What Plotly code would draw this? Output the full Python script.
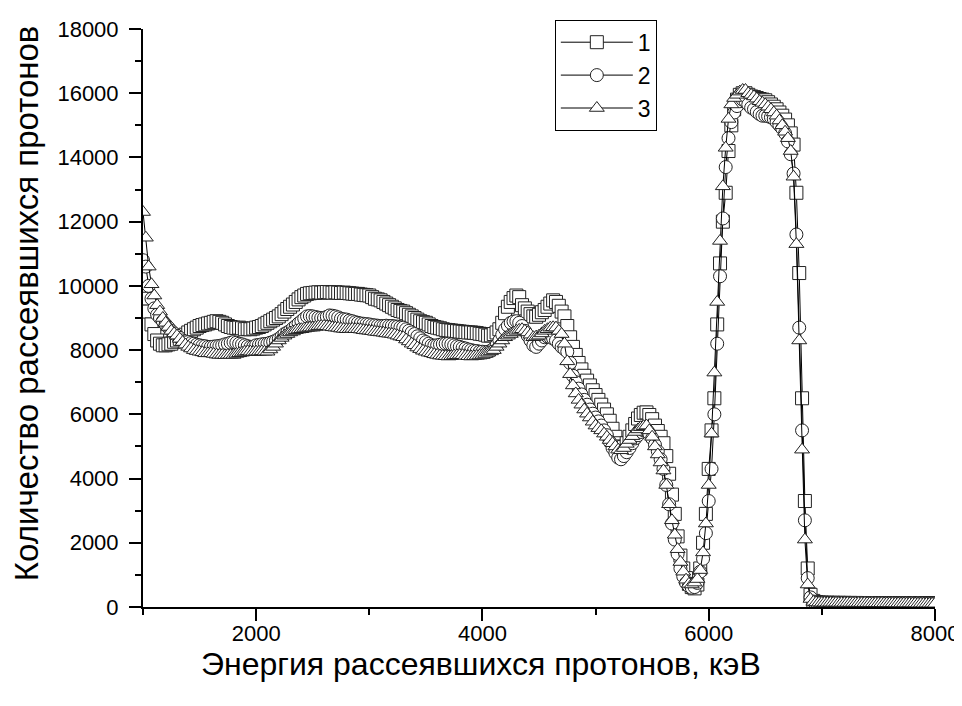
import plotly.graph_objects as go

# Energy grid (keV), 25 keV step from 1000 to 8000
E_START = 1000
E_STEP = 25
energy = [E_START + E_STEP * i for i in range(281)]

series1 = [
    9800, 9600, 9200, 8800,  8500, 8300, 8200, 8150,  8150, 8180, 8200, 8260,
    8300, 8350, 8400, 8480,  8550, 8600, 8650, 8700,  8750, 8780, 8800, 8830,
    8850, 8880, 8900, 8880,  8850, 8800, 8750, 8720,  8700, 8690, 8700, 8680,
    8650, 8660, 8650, 8670,  8700, 8720, 8750, 8800,  8850, 8900, 8950, 9000,
    9050, 9120, 9200, 9280,  9350, 9420, 9500, 9580,  9650, 9700, 9750, 9770,
    9780, 9790, 9800, 9790,  9800, 9810, 9800, 9790,  9800, 9790, 9780, 9790,
    9780, 9770, 9760, 9750,  9750, 9730, 9720, 9710,  9700, 9650, 9600, 9580,
    9550, 9500, 9450, 9400,  9350, 9300, 9250, 9220,  9200, 9150, 9100, 9050,
    9000, 8950, 8900, 8870,  8850, 8800, 8750, 8720,  8700, 8680, 8650, 8630,
    8620, 8610, 8600, 8590,  8580, 8570, 8560, 8550,  8550, 8540, 8530, 8510,
    8500, 8480, 8450, 8460,  8500, 8550, 8650, 8850,  9150, 9350, 9500, 9620,
    9700, 9650, 9400, 9300,  9200, 9120, 9050, 9040,  9100, 9180, 9250, 9350,
    9450, 9550, 9500, 9380,  9200, 9050, 8750, 8400,  8100, 7850, 7600, 7400,
    7200, 7050, 6900, 6750,  6600, 6450, 6300, 6150,  6000, 5800, 5550, 5300,
    5100, 5000, 4980, 5100,  5300, 5500, 5700, 5870,  5980, 6050, 6060, 5980,
    5850, 5650, 5480, 5300,  5100, 4700, 4150, 3500,  2900, 2200, 1600, 1200,
    900, 720, 620, 580,      700, 1200, 2000, 2900,   4300, 5500, 6500, 8800,
    10700, 12000, 12900, 14200,  15000, 15500, 15800, 15950,
    16000, 16000, 15950, 15900,  15880, 15850, 15820, 15800,
    15780, 15720, 15650, 15580,  15500, 15400, 15300, 15180,
    15000, 14750, 14400, 12900,  10400, 6500, 3300, 1200,
    380, 190, 150, 140,
    135, 130, 132, 128,  130, 127, 129, 126,  128, 125, 127, 124,
    126, 123, 125, 122,  124, 121, 123, 120,  122, 119, 121, 118,
    120, 117, 119, 116,  118, 115, 117, 114,  116, 113, 115, 112,
    114, 111, 113, 110,  110,
]

series2 = [
    10800, 10600, 10000, 9600,  9300, 9100, 9000, 8900,  8800, 8700, 8600, 8520,
    8450, 8380, 8300, 8270,  8250, 8220, 8200, 8170,  8150, 8130, 8120, 8100,
    8100, 8110, 8120, 8130,  8150, 8180, 8200, 8230,  8250, 8230, 8200, 8180,
    8150, 8120, 8100, 8110,  8150, 8160, 8180, 8190,  8200, 8230, 8260, 8300,
    8350, 8420, 8500, 8550,  8600, 8680, 8750, 8830,  8900, 8980, 9050, 9060,
    9050, 9030, 9010, 9000,  9000, 9040, 9080, 9070,  9050, 9020, 8980, 8960,
    8950, 8920, 8900, 8870,  8850, 8830, 8820, 8810,  8800, 8780, 8770, 8760,
    8750, 8750, 8760, 8750,  8750, 8740, 8730, 8710,  8700, 8650, 8600, 8550,
    8500, 8430, 8370, 8300,  8250, 8200, 8150, 8140,  8150, 8170, 8190, 8200,
    8200, 8180, 8150, 8120,  8100, 8070, 8050, 8020,  8000, 7980, 7970, 7950,
    7950, 7940, 7950, 7980,  8050, 8150, 8300, 8480,  8650, 8760, 8850, 8890,
    8900, 8850, 8750, 8600,  8450, 8300, 8150, 8100,  8200, 8300, 8400, 8420,
    8400, 8360, 8300, 8200,  8100, 8030, 7950, 7600,  7200, 7000, 6800, 6620,
    6450, 6300, 6150, 6020,  5900, 5780, 5650, 5500,  5350, 5150, 4950, 4800,
    4650, 4600, 4700, 4820,  4950, 5100, 5250, 5350,  5450, 5500, 5500, 5400,
    5250, 5050, 4850, 4600,  4300, 3800, 3200, 2600,  2100, 1650, 1200, 950,
    750, 650, 600, 620,      750, 1100, 1500, 2300,   3300, 4300, 6000, 8200,
    10300, 12100, 13700, 14600,  15100, 15400, 15600, 15750,
    15800, 15750, 15650, 15550,  15500, 15420, 15350, 15300,
    15300, 15280, 15250, 15200,  15100, 15000, 14900, 14750,
    14500, 14100, 13500, 11600,  8700, 5500, 2700, 900,
    300, 170, 145, 135,
    132, 128, 130, 127,  128, 125, 127, 124,  126, 124, 125, 122,
    124, 121, 123, 120,  122, 119, 121, 118,  120, 117, 119, 116,
    118, 115, 117, 114,  116, 113, 115, 112,  114, 111, 113, 110,
    112, 109, 111, 108,  108,
]

series3 = [
    12300, 11500, 10600, 10050,  9700, 9400, 9200, 9000,  8850, 8720, 8600, 8520,
    8450, 8350, 8250, 8170,  8100, 8050, 8000, 7970,  7950, 7930, 7900, 7900,
    7900, 7880, 7860, 7850,  7850, 7840, 7850, 7850,  7850, 7880, 7900, 7920,
    7950, 7960, 7950, 7940,  7950, 7950, 7960, 7950,  7950, 8020, 8100, 8200,
    8300, 8380, 8450, 8500,  8550, 8580, 8620, 8640,  8650, 8670, 8690, 8700,
    8700, 8720, 8740, 8750,  8750, 8740, 8730, 8710,  8700, 8690, 8670, 8660,
    8650, 8650, 8660, 8650,  8650, 8640, 8620, 8610,  8600, 8590, 8570, 8560,
    8550, 8540, 8520, 8510,  8500, 8480, 8450, 8420,  8400, 8330, 8270, 8200,
    8150, 8080, 8030, 7980,  7950, 7920, 7900, 7870,  7850, 7830, 7820, 7810,
    7800, 7810, 7830, 7840,  7850, 7840, 7820, 7810,  7800, 7810, 7820, 7830,
    7850, 7880, 7920, 7960,  8000, 8100, 8200, 8300,  8400, 8450, 8500, 8550,
    8600, 8630, 8650, 8600,  8550, 8480, 8400, 8420,  8450, 8520, 8600, 8650,
    8700, 8710, 8700, 8600,  8500, 8200, 7650, 7250,  6900, 6650, 6450, 6300,
    6150, 6020, 5900, 5770,  5650, 5570, 5500, 5400,  5300, 5200, 5100, 5000,
    4900, 4880, 4950, 5080,  5200, 5320, 5450, 5530,  5600, 5630, 5650, 5500,
    5300, 5000, 4750, 4500,  4250, 3800, 3200, 2700,  2250, 1800, 1400, 1100,
    850, 720, 700, 760,      870, 1150, 1700, 2600,   3800, 5400, 7300, 9500,
    11400, 13100, 14300, 15200,  15650, 15850, 15950, 16050,
    16100, 16100, 16000, 15950,  15900, 15830, 15750, 15700,
    15650, 15580, 15500, 15400,  15300, 15150, 15000, 14800,
    14600, 14200, 13400, 11300,  8300, 4900, 2100, 700,
    250, 160, 140, 135,
    130, 132, 128, 130,  127, 129, 125, 127,  124, 126, 122, 124,
    121, 123, 119, 121,  118, 120, 116, 118,  115, 117, 113, 115,
    112, 114, 110, 112,  109, 111, 107, 109,  106, 108, 104, 106,
    103, 105, 101, 103,  100,
]

series_names = ["1", "2", "3"]
series_symbols = ["square", "circle", "triangle-up"]

x_ticks = [2000, 4000, 6000, 8000]
y_ticks = list(range(0, 18001, 2000))

FONT = "Arial, 'Liberation Sans', sans-serif"

fig = go.Figure()
for name, sym, vals in zip(series_names, series_symbols, [series1, series2, series3]):
    fig.add_trace(go.Scatter(
        x=energy, y=vals, name=name, mode="lines+markers",
        line=dict(color="black", width=1),
        marker=dict(symbol=sym, size=13, color="white",
                    line=dict(color="#222222", width=1)),
    ))

axis_common = dict(
    showgrid=False, zeroline=False, showline=True, linecolor="black", linewidth=2,
    ticks="outside", ticklen=12, tickwidth=2, tickcolor="black",
    tickfont=dict(family=FONT, size=22, color="black"),
    automargin=False,
)

# page body has an 8px default margin, so the figure is sized to fit the window
fig.update_layout(
    width=954, height=698,
    margin=dict(l=135, r=27, t=16, b=99),
    paper_bgcolor="white", plot_bgcolor="white",
    font=dict(family=FONT, color="black"),
    showlegend=True,
    legend=dict(
        x=0.52, y=1.016, xanchor="left", yanchor="top",
        bgcolor="white", bordercolor="black", borderwidth=1,
        font=dict(family=FONT, size=23, color="black"),
        itemwidth=72, tracegroupgap=0,
    ),
    xaxis=dict(
        range=[1000, 8000], tickvals=x_ticks, tickformat="d",
        minor=dict(dtick=1000, tick0=0, ticks="outside", ticklen=6, tickwidth=2, tickcolor="black"),
        ticklabelstandoff=-6,
        **axis_common,
    ),
    yaxis=dict(
        range=[0, 18000], tickvals=y_ticks, tickformat="d",
        minor=dict(dtick=1000, tick0=0, ticks="outside", ticklen=6, tickwidth=2, tickcolor="black"),
        ticklabelstandoff=6,
        **axis_common,
    ),
    annotations=[
        dict(text="Энергия рассеявшихся протонов, кэВ", xref="paper", yref="paper",
             x=0.4268, y=-0.0978, xanchor="center", yanchor="middle", showarrow=False,
             font=dict(family=FONT, size=32, color="black")),
        dict(text="Количество рассеявшихся протонов", xref="paper", yref="paper",
             x=-0.147, y=0.525, xanchor="center", yanchor="middle", showarrow=False,
             textangle=-90, font=dict(family=FONT, size=33, color="black")),
    ],
)

fig.write_html("out.html")
